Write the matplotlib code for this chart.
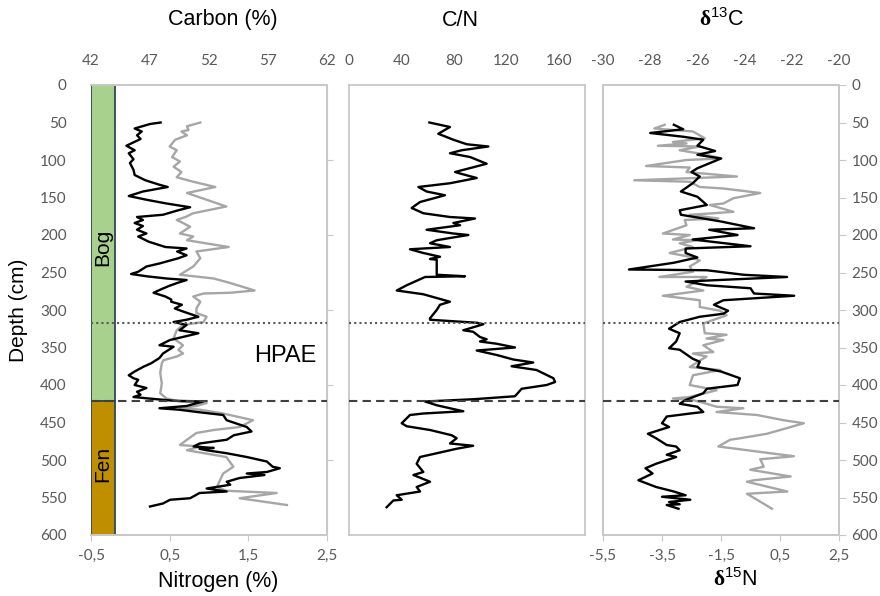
import matplotlib.pyplot as plt
from matplotlib.patches import Rectangle

plt.rcParams['font.family'] = ['Liberation Sans', 'DejaVu Sans']
plt.rcParams['mathtext.fontset'] = 'custom'
plt.rcParams['mathtext.rm'] = 'Liberation Sans'
plt.rcParams['mathtext.bf'] = 'Liberation Serif:bold'

# --- data ---
carbon_depth = [50, 52, 58, 62, 67, 72, 81, 87, 91, 99, 104, 113, 120, 127, 133, 136, 142, 148, 153, 158,
                163, 167, 173, 176, 180, 184, 188, 193, 198, 202, 209, 216, 218, 222, 227, 231, 238, 242, 249, 252,
                255, 258, 260, 264, 268, 272, 277, 282, 286, 289, 293, 298, 302, 309, 313, 316, 320, 327, 331, 340,
                347, 349, 358, 364, 371, 376, 382, 387, 391, 393, 400, 402, 404, 409, 413, 416, 418, 421, 422, 428,
                431, 433, 436, 440, 447, 456, 462, 467, 473, 478, 482, 484, 485, 487, 491, 496, 502, 509, 511, 516,
                518, 520, 524, 529, 533, 536, 538, 542, 544, 551, 553, 558, 562]
carbon = [47.9, 47.0, 45.7, 46.3, 45.9, 46.2, 45.0, 45.7, 45.2, 45.6, 45.3, 45.6, 45.7, 46.6, 47.8, 48.5, 46.4, 45.2, 46.7, 48.4,
          50.4, 49.4, 48.1, 45.9, 46.4, 45.7, 46.4, 45.9, 46.7, 46.0, 46.9, 48.3, 50.1, 49.3, 50.1, 49.4, 47.8, 46.7, 46.0, 45.4,
          46.7, 48.4, 50.1, 49.3, 48.6, 48.0, 47.3, 48.3, 48.8, 48.8, 49.7, 49.1, 49.8, 51.1, 50.1, 49.0, 50.1, 49.5, 51.1, 48.7,
          47.8, 49.0, 48.1, 47.8, 47.1, 46.4, 45.7, 45.2, 45.6, 46.0, 45.7, 46.2, 46.7, 45.9, 46.2, 45.6, 46.9, 49.0, 51.5, 50.1,
          47.8, 49.5, 51.0, 53.2, 53.5, 55.2, 55.6, 54.1, 53.5, 51.2, 50.7, 52.4, 51.2, 51.8, 53.5, 55.2, 56.9, 57.4, 58.0, 56.9,
          55.2, 56.7, 54.6, 53.5, 53.8, 52.6, 51.8, 53.5, 51.2, 50.4, 48.7, 48.1, 47.0]

nitrogen_depth = [50, 55, 60, 62, 67, 73, 82, 87, 96, 102, 109, 116, 123, 129, 136, 144, 153, 162, 171, 176,
                  180, 184, 189, 198, 202, 207, 216, 222, 231, 242, 253, 258, 264, 274, 277, 278, 282, 289, 298, 304,
                  309, 316, 320, 327, 338, 347, 353, 358, 362, 367, 371, 384, 398, 411, 418, 422, 424, 428, 431, 433,
                  438, 447, 456, 460, 464, 473, 480, 482, 487, 496, 509, 518, 527, 536, 541, 544, 551, 560]
nitrogen = [0.89, 0.72, 0.74, 0.65, 0.72, 0.57, 0.50, 0.59, 0.53, 0.63, 0.55, 0.65, 0.59, 0.80, 1.08, 0.72, 0.97, 1.22, 0.80, 0.70,
            0.59, 0.67, 0.76, 0.63, 0.80, 0.72, 1.25, 0.84, 0.89, 0.80, 0.63, 1.06, 1.27, 1.58, 1.27, 0.93, 0.80, 0.89, 0.84, 0.84,
            0.97, 0.93, 0.67, 0.59, 0.55, 0.67, 0.61, 0.67, 0.59, 0.42, 0.40, 0.38, 0.40, 0.38, 0.46, 0.63, 0.97, 0.84, 0.63, 0.89,
            1.18, 1.56, 1.39, 1.06, 0.84, 0.72, 0.63, 0.89, 0.72, 1.22, 1.31, 1.18, 1.14, 1.10, 1.22, 1.86, 1.39, 1.99]

cn_depth = [50, 56, 65, 73, 79, 82, 87, 91, 96, 105, 116, 118, 124, 131, 136, 142, 147, 156, 164, 171,
            176, 178, 184, 187, 193, 198, 200, 204, 207, 211, 216, 219, 224, 229, 232, 233, 253, 255, 256, 267,
            274, 279, 289, 293, 300, 311, 313, 317, 319, 327, 329, 336, 339, 342, 345, 350, 354, 360, 366, 370,
            375, 380, 391, 396, 400, 405, 415, 419, 422, 427, 431, 435, 438, 440, 451, 455, 460, 467, 471, 478,
            481, 485, 489, 496, 505, 516, 520, 529, 536, 542, 547, 553, 554, 563]
cn = [61.3, 77.0, 68.1, 79.6, 89.8, 106.3, 85.9, 77.0, 92.3, 105.0, 80.9, 84.7, 97.4, 77.0, 52.9, 59.2, 73.2, 54.2, 47.8, 56.7,
      77.0, 96.1, 79.6, 84.7, 59.2, 79.6, 91.0, 77.0, 66.9, 61.8, 77.0, 46.5, 56.7, 69.4, 61.8, 66.9, 66.9, 88.5, 58.0, 44.0,
      36.4, 56.7, 77.0, 69.4, 66.9, 61.8, 61.8, 97.4, 102.5, 87.2, 94.7, 99.9, 105.0, 99.9, 112.7, 126.6, 97.4, 112.7, 125.3, 140.5,
      124.0, 143.0, 155.9, 157.2, 150.8, 131.7, 126.6, 94.7, 58.0, 66.9, 77.0, 87.2, 56.7, 46.5, 40.2, 44.0, 61.8, 78.3, 82.1, 77.0,
      94.7, 82.1, 72.0, 54.2, 51.6, 56.7, 49.1, 61.8, 51.6, 54.2, 36.4, 40.2, 33.8, 28.7]

d13c_depth = [53, 59, 64, 69, 73, 81, 88, 93, 98, 111, 116, 122, 131, 142, 149, 160, 164, 167, 173, 178,
              182, 191, 193, 200, 206, 215, 218, 224, 230, 237, 246, 247, 253, 256, 262, 267, 271, 278, 281, 287,
              293, 301, 305, 309, 316, 325, 331, 342, 351, 353, 365, 369, 376, 382, 391, 400, 405, 411, 420, 425,
              429, 436, 438, 442, 451, 456, 465, 471, 480, 482, 487, 493, 496, 505, 511, 518, 527, 536, 542, 547,
              549, 553, 556, 559, 560, 565]
d13c = [-27.0, -26.6, -28.0, -26.6, -25.75, -26.0, -25.25, -26.0, -25.0, -26.0, -26.25, -25.9, -26.2, -26.7, -26.0, -25.6, -26.25, -26.75, -26.7, -25.75,
        -25.0, -23.6, -25.5, -24.3, -26.2, -23.75, -26.5, -26.5, -26.0, -27.0, -28.9, -25.6, -24.05, -22.2, -26.5, -25.6, -23.75, -23.6, -21.9, -24.9,
        -25.3, -24.7, -24.9, -25.9, -26.75, -27.2, -26.75, -26.9, -27.2, -26.75, -26.2, -25.9, -26.0, -25.0, -24.2, -24.3, -25.6, -25.75, -26.5, -26.75,
        -26.0, -25.75, -26.3, -27.3, -27.5, -27.2, -28.1, -27.75, -27.3, -26.9, -26.75, -27.3, -26.9, -27.75, -28.2, -27.9, -28.5, -27.75, -27.0, -26.5,
        -27.5, -26.3, -27.2, -26.75, -27.3, -26.8]

d15n_depth = [53, 58, 62, 71, 76, 78, 81, 82, 87, 93, 98, 100, 108, 110, 116, 122, 127, 129, 136, 138,
              144, 151, 158, 160, 169, 171, 173, 178, 180, 187, 198, 200, 206, 207, 211, 216, 224, 229, 234, 242,
              249, 256, 256, 269, 274, 281, 287, 296, 301, 307, 318, 331, 333, 338, 340, 347, 356, 358, 362, 376,
              380, 387, 400, 407, 416, 418, 420, 425, 429, 431, 436, 440, 447, 451, 465, 471, 473, 482, 495, 499,
              509, 513, 522, 527, 529, 542, 545, 565]
d15n = [-3.41, -3.76, -2.45, -2.05, -3.13, -2.67, -3.64, -2.22, -2.9, -1.99, -1.48, -2.67, -4.04, -2.56, -2.67, -0.96, -4.44, -2.56, -2.22, -1.42,
        -0.17, -1.08, -1.42, -1.88, -1.08, -1.76, -2.56, -1.59, -2.73, -2.67, -3.47, -2.56, -3.13, -2.33, -2.9, -2.45, -3.24, -2.56, -2.22, -2.56,
        -2.45, -3.59, -1.99, -2.67, -2.1, -3.47, -2.22, -2.22, -1.53, -1.31, -2.1, -2.05, -1.31, -1.99, -1.42, -2.1, -1.76, -2.45, -1.99, -2.56,
        -1.53, -2.45, -2.56, -1.65, -2.56, -3.13, -2.45, -1.99, -1.65, -0.74, -1.65, -0.28, 0.63, 1.31, 0.06, -0.85, -1.19, -1.59, 0.97, -0.17,
        -0.05, -0.51, 0.86, -0.39, -0.62, 0.75, -0.62, 0.23]

zones = ['Bog', 'Fen']
zone_top = [0, 421]
zone_bottom = [421, 600]
zone_label_depth = [216, 505]
zone_colors = ['#a9d18e', '#bf8f00']
hpae_top = 317
hpae_bottom = 421

depth_ticks = list(range(0, 601, 50))
carbon_ticks = [42, 47, 52, 57, 62]
nitrogen_ticks = [-0.5, 0.5, 1.5, 2.5]
cn_ticks = [0, 40, 80, 120, 160]
d13c_ticks = [-30, -28, -26, -24, -22, -20]
d15n_ticks = [-5.5, -3.5, -1.5, 0.5, 2.5]

FRAME = '#c8c8c8'
TICKC = '#595959'
BLACK = '#000000'
GRAY = '#a6a6a6'
tick_font = dict(family='Lato', size=11, color=TICKC)


def comma(v):
    s = ('%g' % v)
    return s.replace('.', ',')


def style_frame(ax):
    for s in ax.spines.values():
        s.set_color(FRAME)
        s.set_linewidth(1.3)


def set_ticklabels(axis, ticks, fmt=comma):
    axis.set_ticks(ticks)
    axis.set_ticklabels([fmt(t) for t in ticks], fontdict=tick_font)


def depth_axis(ax):
    ax.set_ylim(600, 0)
    ax.set_yticks(depth_ticks)


def hpae_lines(ax):
    ax.axhline(hpae_top, color='#595959', ls=(0, (1, 1.5)), lw=1.5, zorder=6)
    ax.axhline(hpae_bottom, color='#404040', ls=(0, (4, 2.5)), lw=1.5, zorder=6)


fig = plt.figure(figsize=(8.8, 5.96), dpi=100)
W, H = 880.0, 596.0
bottom = 1 - 535 / H
height = 450 / H
width = 236 / W

# ---------------- left panel: carbon / nitrogen ----------------
ax1 = fig.add_axes([91 / W, bottom, width, height])
depth_axis(ax1)
ax1.set_xlim(-0.5, 2.5)
set_ticklabels(ax1.xaxis, nitrogen_ticks)
ax1.set_yticklabels([str(t) for t in depth_ticks], fontdict=tick_font)
ax1.tick_params(axis='y', left=False, pad=14)
ax1.tick_params(axis='x', length=4, color=FRAME, pad=6)
style_frame(ax1)
ax1.spines['left'].set_visible(False)

for name, top, bot, ylab, col in zip(zones, zone_top, zone_bottom, zone_label_depth, zone_colors):
    ax1.add_patch(Rectangle((-0.5, top), 0.3, bot - top, facecolor=col,
                            edgecolor='#2f4858', lw=1.3, zorder=2))
    ax1.text(-0.35, ylab, name, rotation=90, ha='center', va='center', fontsize=15, zorder=3)

ax1.plot(nitrogen, nitrogen_depth, color=GRAY, lw=1.7, zorder=4)
ax1.text(1.97, 362, 'HPAE', fontsize=17, ha='center', va='center')

ax1c = ax1.twiny()
ax1c.set_xlim(42, 62)
ax1c.plot(carbon, carbon_depth, color=BLACK, lw=1.7, zorder=5)
set_ticklabels(ax1c.xaxis, carbon_ticks)
ax1c.tick_params(axis='x', length=0, pad=12)
ax1c.set_ylim(600, 0)
style_frame(ax1c)
ax1c.spines['left'].set_visible(False)
hpae_lines(ax1c)

sec = ax1.secondary_yaxis('right')
sec.set_yticks(list(range(100, 600, 100)))
sec.tick_params(length=4, color=FRAME, labelright=False)
sec.spines['right'].set_color(FRAME)

# ---------------- middle panel: C/N ----------------
ax2 = fig.add_axes([349 / W, bottom, width, height])
depth_axis(ax2)
ax2.set_xlim(0, 180)
ax2.plot(cn, cn_depth, color=BLACK, lw=1.7)
ax2.xaxis.tick_top()
set_ticklabels(ax2.xaxis, cn_ticks)
ax2.tick_params(axis='x', length=0, pad=12)
ax2.tick_params(axis='y', left=False, labelleft=False)
style_frame(ax2)
hpae_lines(ax2)

# ---------------- right panel: isotopes ----------------
ax3 = fig.add_axes([603 / W, bottom, width, height])
depth_axis(ax3)
ax3.set_xlim(-5.5, 2.5)
ax3.plot(d15n, d15n_depth, color=GRAY, lw=1.7)
set_ticklabels(ax3.xaxis, d15n_ticks)
ax3.tick_params(axis='x', length=4, color=FRAME, pad=6)
ax3.yaxis.tick_right()
ax3.set_yticklabels([str(t) for t in depth_ticks], fontdict=tick_font)
ax3.tick_params(axis='y', length=5, color=FRAME, pad=4)
style_frame(ax3)

ax3c = ax3.twiny()
ax3c.set_xlim(-30, -20)
ax3c.set_ylim(600, 0)
ax3c.plot(d13c, d13c_depth, color=BLACK, lw=1.7)
set_ticklabels(ax3c.xaxis, d13c_ticks)
ax3c.tick_params(axis='x', length=0, pad=12)
style_frame(ax3c)
hpae_lines(ax3c)

# ---------------- titles ----------------
fig.text(223 / W, 1 - 20 / H, 'Carbon (%)', ha='center', va='center', fontsize=15.5)
fig.text(460 / W, 1 - 20 / H, 'C/N', ha='center', va='center', fontsize=15.5)
fig.text(722 / W, 1 - 20 / H, r'$\mathbf{\delta}^{\mathrm{13}}\mathrm{C}$', ha='center', va='center', fontsize=15.5)
fig.text(218 / W, 1 - 582 / H, 'Nitrogen (%)', ha='center', va='center', fontsize=15.5)
fig.text(735 / W, 1 - 580 / H, r'$\mathbf{\delta}^{\mathrm{15}}\mathrm{N}$', ha='center', va='center', fontsize=15.5)
fig.text(18 / W, 1 - 310 / H, 'Depth (cm)', ha='center', va='center', fontsize=15, rotation=90)

fig.savefig('out.png', dpi=100)
